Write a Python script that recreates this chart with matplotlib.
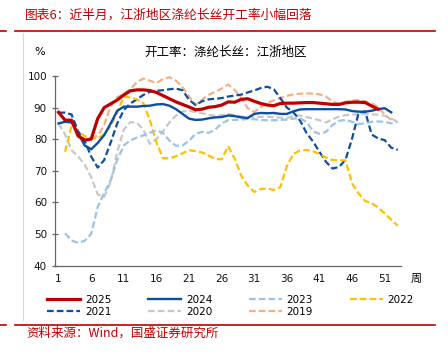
import matplotlib
matplotlib.use('Agg')
from matplotlib import pyplot as plt
from matplotlib.lines import Line2D
import numpy as np

nan = np.nan

# 周序号
weeks = list(range(1, 54))

# 各年份开工率（%），按周
y2025 = [88.5, 86.0, 86.0, 81.0, 79.7, 80.0, 86.5, 90.0, 91.2, 92.4,
         94.0, 95.3, 95.6, 95.6, 95.4, 94.8, 93.8, 92.8, 91.8, 91.0,
         90.2, 89.3, 89.5, 90.1, 90.3, 90.8, 91.8, 91.7, 92.6, 92.8,
         92.0, 91.3, 90.8, 90.6, 91.3, 91.4, 91.4, 91.5, 91.6, 91.6,
         91.4, 91.2, 91.0, 91.0, 91.5, 91.7, 91.7, 91.6, 90.5, 89.5,
         nan, nan, nan]
y2024 = [85.0, 85.5, 85.3, 82.0, 78.0, 76.8, 78.8, 81.3, 85.0, 89.0,
         90.3, 90.3, 90.3, 90.5, 90.6, 91.0, 91.1, 90.6, 89.5, 88.0,
         86.5, 86.1, 86.2, 86.6, 86.9, 87.0, 87.5, 87.3, 86.9, 86.7,
         88.0, 88.3, 88.2, 88.3, 88.0, 88.0, 88.8, 89.4, 89.5, 89.5,
         89.5, 89.5, 89.5, 89.5, 89.4, 88.9, 88.7, 88.7, 89.0, 89.5,
         89.8, 88.5, nan]
y2023 = [nan, 50.2, 47.9, 47.2, 47.8, 50.0, 58.5, 63.0, 67.0, 73.5,
         78.0, 79.6, 80.5, 81.2, 82.0, 82.8, 82.0, 79.5, 77.9, 78.0,
         79.5, 81.7, 82.3, 82.0, 83.0, 85.0, 86.0, 86.1, 86.2, 86.4,
         86.3, 86.1, 86.0, 86.0, 86.1, 86.2, 86.5, 86.6, 85.5, 82.5,
         81.7, 82.3, 84.5, 85.8, 86.1, 85.5, 84.8, 85.0, 85.5, 85.6,
         85.5, 85.0, 85.5]
y2022 = [nan, 76.0, 84.3, 82.3, 81.0, 80.2, 80.3, 81.5, 84.2, 88.5,
         93.5, 93.2, 92.6, 91.4, 86.0, 79.0, 74.0, 73.9, 74.6, 75.5,
         76.5, 76.2, 75.8, 74.8, 73.8, 73.6, 77.8, 73.8, 68.5, 65.3,
         63.3, 64.2, 64.4, 63.9, 64.8, 71.5, 75.3, 76.4, 76.6, 76.2,
         75.3, 74.2, 73.4, 73.3, 73.3, 66.0, 62.8, 60.4, 59.8, 58.3,
         56.5, 54.5, 52.6]
y2021 = [88.4, 88.4, 87.8, 82.5, 79.5, 74.5, 71.0, 73.4, 79.0, 85.0,
         89.2, 91.3, 92.6, 94.0, 95.0, 95.3, 95.5, 95.8, 96.0, 95.5,
         92.5, 90.8, 92.0, 92.6, 92.8, 93.0, 93.5, 93.8, 94.1, 94.8,
         95.4, 96.2, 96.6, 95.8, 93.0, 90.0, 88.5, 86.0, 82.0, 79.3,
         76.0, 72.8, 70.7, 71.2, 73.5, 80.2, 88.3, 88.8, 81.5, 80.2,
         79.7, 77.3, 76.6]
y2020 = [85.0, 81.5, 76.5, 74.5, 72.0, 68.0, 62.5, 61.8, 66.5, 76.0,
         83.0, 85.4, 85.2, 83.0, 78.5, 80.0, 82.4, 85.3, 87.5, 88.8,
         89.0, 88.6, 88.2, 87.7, 87.4, 87.6, 88.0, 87.6, 87.2, 87.0,
         87.1, 87.1, 87.1, 87.0, 86.8, 86.7, 87.2, 87.5, 87.0, 86.5,
         86.0, 85.3, 86.3, 87.1, 87.6, 87.8, 87.9, 87.9, 87.9, 87.7,
         87.4, 86.5, 85.5]
y2019 = [nan, nan, nan, nan, nan, 80.3, 81.0, 84.5, 90.5, 93.3,
         94.3, 95.8, 98.0, 99.2, 98.5, 97.8, 99.0, 99.6, 98.5, 96.5,
         93.5, 90.8, 92.5, 94.0, 95.0, 96.0, 97.3, 95.6, 93.0, 89.8,
         88.6, 90.2, 91.5, 92.3, 93.0, 93.7, 94.2, 94.4, 94.5, 94.4,
         94.2, 93.5, 91.9, 91.3, 91.8, 92.2, 92.4, 92.0, 91.3, 90.2,
         87.8, 86.1, nan]

years = ['2025', '2024', '2023', '2022', '2021', '2020', '2019']
values = [y2025, y2024, y2023, y2022, y2021, y2020, y2019]
xticks = list(range(1, 52, 5))

title = '图表6：近半月，江浙地区涤纶长丝开工率小幅回落'
sub_title = '开工率：涤纶长丝：江浙地区'
source = '资料来源：Wind，国盛证券研究所'

cjk = ['Noto Sans CJK SC', 'DejaVu Sans']
red = '#C00000'
dash = (0, (3, 1.4))
# 年份: (颜色, 线型, 线宽)
styles = {
    '2025': (red, '-', 2.3),
    '2024': ('#0B4EA2', '-', 1.7),
    '2023': ('#9DC3E6', dash, 1.6),
    '2022': ('#FFC000', dash, 1.6),
    '2021': ('#0B4EA2', dash, 1.6),
    '2020': ('#C8C8C8', dash, 1.6),
    '2019': ('#F4B183', dash, 1.6),
}

W, H = 448, 353
fig = plt.figure(figsize=(W / 100, H / 100), dpi=100)
ax = fig.add_axes([55.3 / W, 1 - 265.5 / H, 345.7 / W, 189.5 / H])

# 倒序画，2025 在最上层
handles = {}
for yr, vals in reversed(list(zip(years, values))):
    c, ls, lw = styles[yr]
    line, = ax.plot(weeks, vals, color=c, linestyle=ls, linewidth=lw, label=yr)
    handles[yr] = line

ax.set_xlim(0.5, 53.5)
ax.set_ylim(40, 100)
ax.set_yticks(range(40, 101, 10))
ax.set_xticks(xticks)
for s in ['top', 'right']:
    ax.spines[s].set_visible(False)
for s in ['left', 'bottom']:
    ax.spines[s].set_color('#666666')
    ax.spines[s].set_linewidth(0.9)
ax.tick_params(axis='y', direction='inout', length=5, width=0.9, color='#666666',
               labelsize=7.5, pad=3.5, labelcolor='#111111')
ax.tick_params(axis='x', length=0, labelsize=7.5, pad=6, labelcolor='#111111')

fig.text(416 / W, 1 - 279 / H, '周', family=cjk, fontsize=8, ha='center', va='center')
fig.text(40 / W, 1 - 52 / H, '%', fontsize=8, ha='center', va='center')
fig.text(226 / W, 1 - 52 / H, sub_title, family=cjk, fontsize=9, ha='center', va='center')

# 标题和来源
fig.text(25 / W, 1 - 15 / H, title, family=cjk, fontsize=9.2, color=red,
         ha='left', va='center', style='italic')
fig.text(26 / W, 1 - 333 / H, source, family=cjk, fontsize=9, color=red,
         ha='left', va='center', style='italic')
for yy in [31, 325]:
    for x0, x1 in [(0, 6), (15, 435)]:
        fig.add_artist(Line2D([x0 / W, x1 / W], [1 - yy / H, 1 - yy / H],
                              color=red, linewidth=1.2, transform=fig.transFigure))
fig.add_artist(Line2D([23 / W, 23 / W], [1 - 33 / H, 1 - 320 / H],
                      color='#D9D9D9', linewidth=0.8, transform=fig.transFigure))

# 图例，按行排列
order = ['2025', '2021', '2024', '2020', '2023', '2019', '2022']
fig.legend([handles[k] for k in order], order, ncol=4, loc='upper left',
           bbox_to_anchor=(47 / W, 1 - 295 / H), frameon=False, fontsize=7.5,
           handlelength=3.2, handletextpad=0.45, columnspacing=3.5,
           borderaxespad=0, borderpad=0, labelspacing=0.2)

fig.savefig('out.png', dpi=100)
